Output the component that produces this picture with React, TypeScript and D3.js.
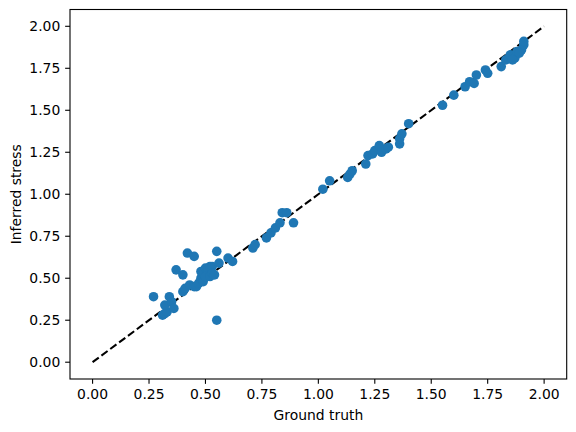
import React from "react";
import * as d3 from "d3";

const groundTruth: number[] = [
  0.27, 0.31, 0.32, 0.33, 0.32, 0.34, 0.35, 0.36, 0.37, 0.40, 0.42, 0.45, 0.40, 0.41, 0.43, 0.45, 0.46, 0.47, 0.48, 0.49,
  0.48, 0.49, 0.50, 0.51, 0.52, 0.53, 0.50, 0.52, 0.53, 0.54, 0.55, 0.56, 0.55, 0.60, 0.62,
  0.71, 0.72, 0.77, 0.79, 0.81, 0.83, 0.84, 0.86, 0.89, 1.02, 1.05, 1.13, 1.14, 1.15, 1.21, 1.22, 1.24, 1.25, 1.27, 1.28,
  1.30, 1.31, 1.36, 1.36, 1.37, 1.40,
  1.55, 1.60, 1.65, 1.67, 1.69, 1.70, 1.74, 1.75, 1.81, 1.83, 1.85, 1.87, 1.88, 1.90, 1.91, 1.91, 1.89, 1.86,
];
const inferred: number[] = [
  0.39, 0.28, 0.29, 0.30, 0.34, 0.39, 0.36, 0.32, 0.55, 0.52, 0.65, 0.63, 0.42, 0.44, 0.46, 0.45, 0.45, 0.47, 0.50, 0.48,
  0.54, 0.53, 0.56, 0.55, 0.57, 0.57, 0.51, 0.51, 0.53, 0.52, 0.66, 0.59, 0.25, 0.62, 0.60,
  0.68, 0.70, 0.74, 0.77, 0.80, 0.83, 0.89, 0.89, 0.83, 1.03, 1.08, 1.10, 1.12, 1.14, 1.18, 1.23, 1.24, 1.26, 1.29, 1.25,
  1.27, 1.28, 1.30, 1.33, 1.36, 1.42,
  1.53, 1.59, 1.64, 1.67, 1.66, 1.71, 1.74, 1.72, 1.76, 1.80, 1.83, 1.81, 1.85, 1.86, 1.89, 1.91, 1.84, 1.80,
];
const identityLine: [number, number][] = [[0, 0], [2, 2]];
const tickValues: number[] = [0, 0.25, 0.5, 0.75, 1.0, 1.25, 1.5, 1.75, 2.0];

export default function App() {
  const W = 576, H = 432;
  const left = 70, right = 566.7, top = 9.5, bottom = 379;
  const x = d3.scaleLinear().domain([-0.1, 2.1]).range([left, right]);
  const y = d3.scaleLinear().domain([-0.1, 2.1]).range([bottom, top]);
  const line = d3.line<[number, number]>().x((d) => x(d[0])).y((d) => y(d[1]));
  const font = "DejaVu Sans, sans-serif";
  const fs = 13.9;
  const tickLen = 4.86;
  const pts = groundTruth.map((g, i) => [g, inferred[i]] as [number, number]);
  return (
    <svg width={W} height={H} style={{ position: "absolute", left: 0, top: 0, background: "#fff" }}>
      <rect x={0} y={0} width={W} height={H} fill="#fff" />
      <path d={line(identityLine) || ""} fill="none" stroke="#000" strokeWidth={2.08} strokeDasharray="7.7,3.33" />
      {pts.map((p, i) => (
        <circle key={i} cx={x(p[0])} cy={y(p[1])} r={4.8} fill="#1f77b4" />
      ))}
      <rect x={left} y={top} width={right - left} height={bottom - top} fill="none" stroke="#000" strokeWidth={1.1} />
      {tickValues.map((t) => (
        <g key={"x" + t}>
          <line x1={x(t)} x2={x(t)} y1={bottom} y2={bottom + tickLen} stroke="#000" strokeWidth={1.1} />
          <text x={x(t)} y={bottom + tickLen + 4.86 + 10.3} textAnchor="middle" fontFamily={font} fontSize={fs} fill="#000">
            {d3.format(".2f")(t)}
          </text>
        </g>
      ))}
      {tickValues.map((t) => (
        <g key={"y" + t}>
          <line x1={left - tickLen} x2={left} y1={y(t)} y2={y(t)} stroke="#000" strokeWidth={1.1} />
          <text x={left - tickLen - 4.86} y={y(t) + 5} textAnchor="end" fontFamily={font} fontSize={fs} fill="#000">
            {d3.format(".2f")(t)}
          </text>
        </g>
      ))}
      <text x={(left + right) / 2} y={420} textAnchor="middle" fontFamily={font} fontSize={fs} fill="#000">
        Ground truth
      </text>
      <text transform={`translate(21,${(top + bottom) / 2}) rotate(-90)`} textAnchor="middle" fontFamily={font} fontSize={fs} fill="#000">
        Inferred stress
      </text>
    </svg>
  );
}
